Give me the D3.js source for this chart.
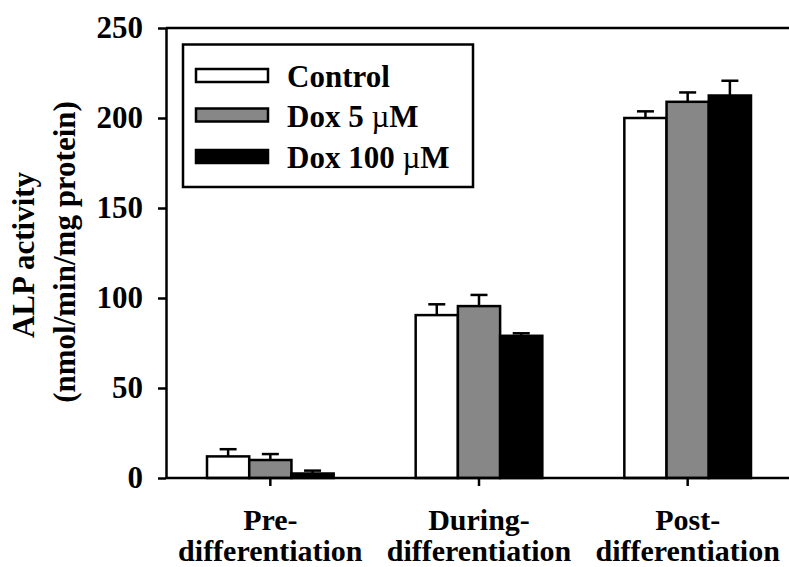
<!DOCTYPE html>
<html>
<head>
<meta charset="utf-8">
<script src="https://cdn.jsdelivr.net/npm/d3@7"></script>
<style>
  html, body { margin: 0; padding: 0; background: #fff; }
  svg text { font-family: "Liberation Serif", "Times New Roman", serif; font-weight: bold; }
</style>
</head>
<body>
<svg id="chart" width="789" height="567"></svg>
<script>
// ALP activity by differentiation stage and doxycycline treatment
const categories = [["Pre-", "differentiation"], ["During-", "differentiation"], ["Post-", "differentiation"]];
const seriesNames = ["Control", "Dox 5 µM", "Dox 100 µM"];
const controlValues = [12, 90.5, 200];
const dox5Values = [10, 95.5, 209];
const dox100Values = [2.5, 79, 212.5];
const controlErrors = [4, 6, 3.7];
const dox5Errors = [3.3, 6.2, 5.2];
const dox100Errors = [1.6, 1.4, 8.2];
const yTicks = [0, 50, 100, 150, 200, 250];

const seriesFill = ["#ffffff", "#878787", "#000000"];
const seriesValues = [controlValues, dox5Values, dox100Values];
const seriesErrors = [controlErrors, dox5Errors, dox100Errors];

const FONT = 31;
const CAT_FONT = 30;
const svg = d3.select("#chart");
const plotLeft = 166, plotRight = 792, plotTop = 28, plotBottom = 478;

const catKeys = categories.map(c => c.join(" "));
const x0 = d3.scaleBand().domain(catKeys).range([plotLeft, plotRight])
  .paddingInner(0.393).paddingOuter(0.1965);
const x1 = d3.scaleBand().domain(seriesNames).range([0, x0.bandwidth()]).padding(0);
const y = d3.scaleLinear().domain([0, 250]).range([plotBottom, plotTop]);

// Bars and upper error bars
const groups = svg.append("g").selectAll("g")
  .data(catKeys)
  .join("g")
  .attr("transform", d => `translate(${x0(d)},0)`);

groups.each(function (cat, ci) {
  const g = d3.select(this);
  seriesNames.forEach((s, si) => {
    const v = seriesValues[si][ci];
    const e = seriesErrors[si][ci];
    const bx = x1(s);
    const bw = x1.bandwidth();
    const cx = bx + bw / 2;
    g.append("line")
      .attr("x1", cx).attr("x2", cx)
      .attr("y1", y(v)).attr("y2", y(v + e))
      .attr("stroke", "#000").attr("stroke-width", 2.5);
    g.append("line")
      .attr("x1", cx - 8.5).attr("x2", cx + 8.5)
      .attr("y1", y(v + e)).attr("y2", y(v + e))
      .attr("stroke", "#000").attr("stroke-width", 2.5);
    g.append("rect")
      .attr("x", bx).attr("y", y(v))
      .attr("width", bw).attr("height", y(0) - y(v))
      .attr("fill", seriesFill[si])
      .attr("stroke", "#000").attr("stroke-width", 2.5);
  });
});

// Frame: top line
svg.append("line")
  .attr("x1", plotLeft).attr("x2", 789 + 5)
  .attr("y1", plotTop).attr("y2", plotTop)
  .attr("stroke", "#000").attr("stroke-width", 2.5);

// Y axis
const yAxis = svg.append("g")
  .attr("transform", `translate(${plotLeft},0)`)
  .call(d3.axisLeft(y).tickValues(yTicks).tickSize(8).tickPadding(15).tickSizeOuter(0));
yAxis.select(".domain").attr("stroke-width", 2.5);
yAxis.selectAll(".tick line").attr("stroke-width", 2.5);
yAxis.selectAll(".tick text").attr("font-size", FONT).attr("fill", "#000")
  .attr("font-family", "Liberation Serif").attr("font-weight", "bold");

// X axis
const xAxis = svg.append("g")
  .attr("transform", `translate(0,${plotBottom})`)
  .call(d3.axisBottom(x0).tickSize(8).tickSizeOuter(0).tickFormat(""));
xAxis.select(".domain").attr("d", `M${plotLeft},0H${789 + 5}`).attr("stroke-width", 2.5);
xAxis.selectAll(".tick line").attr("stroke-width", 2.5);

// Two-line category labels
xAxis.selectAll(".tick").each(function (d, i) {
  const t = d3.select(this).append("text")
    .attr("fill", "#000").attr("font-size", CAT_FONT)
    .attr("font-family", "Liberation Serif").attr("font-weight", "bold")
    .attr("text-anchor", "middle");
  t.append("tspan").attr("x", 0).attr("y", 52).text(categories[i][0]);
  t.append("tspan").attr("x", 0).attr("y", 83).text(categories[i][1]);
});

// Y axis title
svg.append("text")
  .attr("transform", "translate(34,255) rotate(-90)")
  .attr("text-anchor", "middle").attr("font-size", FONT)
  .text("ALP activity");
svg.append("text")
  .attr("transform", "translate(75,252) rotate(-90)")
  .attr("text-anchor", "middle").attr("font-size", FONT)
  .text("(nmol/min/mg protein)");

// Legend
const legend = svg.append("g");
legend.append("rect")
  .attr("x", 183).attr("y", 44.5).attr("width", 290).attr("height", 142.5)
  .attr("fill", "#fff").attr("stroke", "#000").attr("stroke-width", 2.5);
const rowY = [75.5, 115, 156.5];
seriesNames.forEach((s, i) => {
  legend.append("rect")
    .attr("x", 196).attr("y", rowY[i] - 6.5).attr("width", 72).attr("height", 13)
    .attr("fill", seriesFill[i]).attr("stroke", "#000").attr("stroke-width", 2.5);
  const t = legend.append("text")
    .attr("x", 287).attr("y", rowY[i] + 11.5)
    .attr("font-size", FONT).attr("fill", "#000");
  const parts = s.split("µ");
  t.append("tspan").text(parts[0]);
  if (parts.length > 1) {
    t.append("tspan").attr("font-weight", "normal").text("µ");
    t.append("tspan").text(parts[1]);
  }
});
</script>
</body>
</html>
